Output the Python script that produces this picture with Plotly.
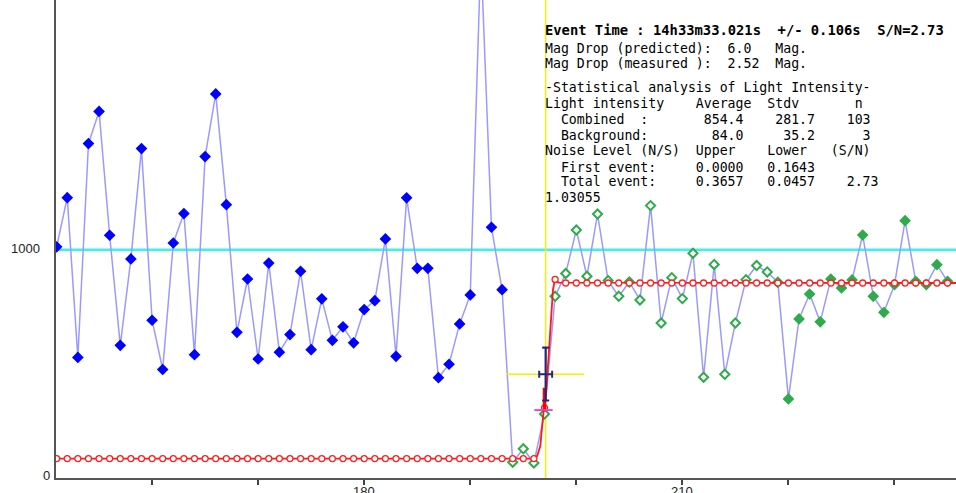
import plotly.graph_objects as go

# ---------------- data ----------------
frames = list(range(151, 236))
intensity = [
    1013, 1229, 528, 1466, 1607, 1064, 581, 960, 1444, 691,
    475, 1030, 1159, 540, 1409, 1684, 1198, 638, 872, 521,
    942, 551, 628, 906, 562, 785, 603, 662, 592, 738,
    777, 1048, 533, 1228, 919, 919, 439, 498, 675, 802,
    2300, 1099, 825, 68, 127, 65, 280, 796, 896, 1087,
    884, 1157, 865, 796, 859, 780, 1194, 679, 878, 786,
    985, 441, 936, 454, 679, 869, 931, 903, 858, 346,
    697, 806, 684, 872, 833, 868, 1065, 796, 726, 847,
    1128, 862, 847, 935, 862,
]
n_background = 43      # frames 151..193 : blue filled diamonds
n_event = 26           # frames 194..219 : green open markers (rest: green filled)

model_levels = [84.0] * 46 + [307, 870] + [854.4] * 37
model_curve_x = [150.0, 195.9, 196.3, 196.6, 196.9, 197.0, 197.2, 197.6, 197.8, 198.0, 198.3, 236.5]
model_curve_y = [84.0, 84.0, 95, 138, 285, 307, 400, 680, 825, 875, 856, 854.4]

reference_level = 1000
event_time = 197.11
event_level = 454
event_err_x = 0.61
event_err_up = 117
event_err_down = 115
yellow_span = [193.34, 200.75]
magenta_x = [196.04, 197.77]
magenta_level = 297
red_seg_x = [197.0, 197.0]
red_seg_y = [292, 395]

x_tick_vals = [160, 170, 180, 190, 200, 210, 220, 230]
x_label_vals = [180, 210]
y_label_vals = [1000, 0]

stats_lines = [
    ("Event Time : 14h33m33.021s  +/- 0.106s  S/N=2.73", 30, True),
    ("Mag Drop (predicted):  6.0   Mag.", 48, False),
    ("Mag Drop (measured ):  2.52  Mag.", 63, False),
    ("-Statistical analysis of Light Intensity-", 87, False),
    ("Light intensity    Average  Stdv       n", 103, False),
    ("  Combined  :       854.4    281.7    103", 119, False),
    ("  Background:        84.0     35.2      3", 135, False),
    ("Noise Level (N/S)  Upper    Lower   (S/N)", 151, False),
    ("  First event:     0.0000   0.1643", 167, False),
    ("  Total event:     0.3657   0.0457    2.73", 182, False),
    ("1.03055", 197, False),
]

# ---------------- figure ----------------
W, H = 956, 493
ML, MB = 56, 15
PW, PH = W - ML, H - MB
X_RANGE = [150.94, 235.80]
Y_RANGE = [-1, 2096]

BLUE_LINE = "#9a9aff"
GREEN = "#2eab4a"
NAVY = "#26267e"

fig = go.Figure()

# reference (cyan) level
fig.add_trace(go.Scatter(x=X_RANGE, y=[reference_level, reference_level], mode="lines",
                         line=dict(color="#3ff0f0", width=2.5), hoverinfo="skip"))
# event time vertical
fig.add_trace(go.Scatter(x=[event_time, event_time], y=Y_RANGE, mode="lines",
                         line=dict(color="#f5f000", width=1.5), hoverinfo="skip"))
# light curve line
fig.add_trace(go.Scatter(x=frames, y=intensity, mode="lines",
                         line=dict(color=BLUE_LINE, width=1.5)))
# markers
fig.add_trace(go.Scatter(x=frames[:n_background], y=intensity[:n_background], mode="markers",
                         marker=dict(symbol="diamond", size=9, color="#0000ff",
                                     line=dict(width=0))))
e0, e1 = n_background, n_background + n_event
fig.add_trace(go.Scatter(x=frames[e0:e1], y=intensity[e0:e1], mode="markers",
                         marker=dict(symbol="diamond", size=7, color="white",
                                     line=dict(color=GREEN, width=2))))
fig.add_trace(go.Scatter(x=frames[e1:], y=intensity[e1:], mode="markers",
                         marker=dict(symbol="diamond", size=9, color=GREEN,
                                     line=dict(width=0))))
# model (red)
fig.add_trace(go.Scatter(x=model_curve_x, y=model_curve_y, mode="lines",
                         line=dict(color="#ff1a1a", width=1.8)))
fig.add_trace(go.Scatter(x=frames, y=model_levels, mode="markers",
                         marker=dict(symbol="circle", size=6, color="white",
                                     line=dict(color="#ff2020", width=1.3))))
fig.add_trace(go.Scatter(x=red_seg_x, y=red_seg_y, mode="lines",
                         line=dict(color="#ff0000", width=3.5)))
# yellow horizontal
fig.add_trace(go.Scatter(x=yellow_span, y=[event_level, event_level], mode="lines",
                         line=dict(color="#f5f000", width=1.5)))
# magenta
fig.add_trace(go.Scatter(x=magenta_x, y=[magenta_level, magenta_level], mode="lines",
                         line=dict(color="#ff33cc", width=1.8)))
# navy error bars
fig.add_trace(go.Scatter(
    x=[event_time], y=[event_level], mode="markers",
    marker=dict(size=1, color=NAVY, opacity=0),
    error_x=dict(type="data", array=[event_err_x], color=NAVY, thickness=2, width=3.5),
    error_y=dict(type="data", array=[event_err_up], arrayminus=[event_err_down],
                 color=NAVY, thickness=2.2, width=3.5)))

def px_x(p):
    return (p - ML) / PW

def px_y(p):
    return 1 - p / PH

annotations = []
for text, ypix, bold in stats_lines:
    t = text.replace(" ", "\u00a0")
    if bold:
        t = "<b>" + t + "</b>"
    annotations.append(dict(
        xref="paper", yref="paper", x=px_x(543), y=px_y(ypix),
        xanchor="left", yanchor="middle", showarrow=False, text=t,
        font=dict(family="DejaVu Sans Mono", size=13.8 if bold else 13.2, color="black")))

# y-axis labels (positioned like the original)
for val, right_px in zip(y_label_vals, [42, 52]):
    annotations.append(dict(
        xref="paper", yref="y", x=px_x(right_px), y=val + (6 if val else 12),
        xanchor="right", yanchor="middle", showarrow=False, text=str(val),
        font=dict(family="Liberation Sans", size=13, color="#222")))

# x-axis labels (partly cut by the bottom edge, like the original)
for val in x_label_vals:
    annotations.append(dict(
        xref="x", yref="paper", x=val, y=px_y(492),
        xanchor="center", yanchor="middle", showarrow=False, text=str(val),
        font=dict(family="Liberation Sans", size=13, color="#222")))

fig.update_layout(
    width=W, height=H,
    margin=dict(l=ML, r=0, t=0, b=MB, pad=0, autoexpand=False),
    paper_bgcolor="white", plot_bgcolor="white",
    showlegend=False,
    annotations=annotations,
    xaxis=dict(range=X_RANGE, showgrid=False, zeroline=False, automargin=False,
               showline=True, linecolor="#555", linewidth=2,
               tickmode="array", tickvals=x_tick_vals, showticklabels=False,
               ticks="outside", ticklen=5, tickwidth=1.5, tickcolor="#444"),
    yaxis=dict(range=Y_RANGE, showgrid=False, zeroline=False, automargin=False,
               showline=True, linecolor="#555", linewidth=2,
               showticklabels=False, ticks=""),
)

fig.write_html(
    "out.html",
    config={"displayModeBar": False},
    post_script="document.body.style.margin='0';document.body.style.overflow='hidden';",
)
